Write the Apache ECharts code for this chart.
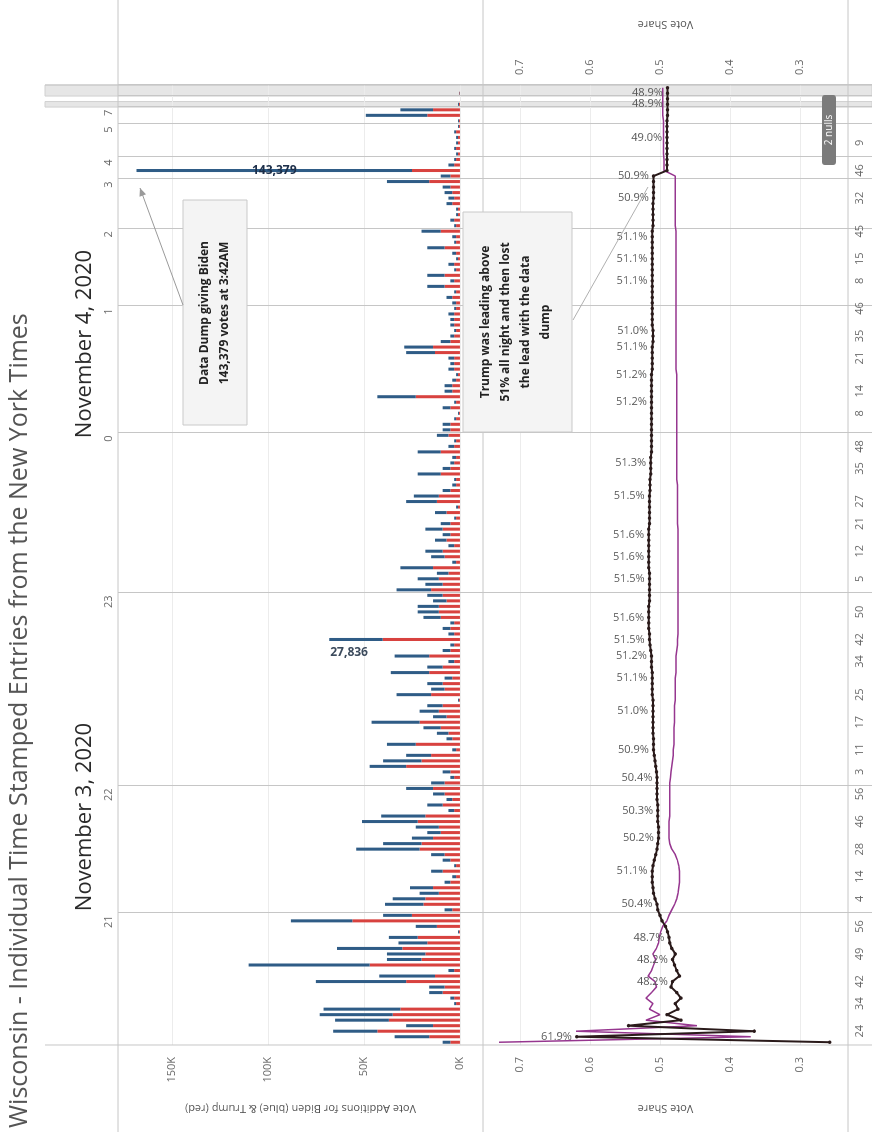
<!DOCTYPE html>
<html>
<head>
<meta charset="utf-8">
<script src="https://cdn.jsdelivr.net/npm/echarts@6/dist/echarts.min.js"></script>
<style>
html, body { margin: 0; padding: 0; background: #fff; overflow: hidden; }
#stage { position: absolute; left: 0; top: 0; width: 872px; height: 1132px; overflow: hidden; }
/* the chart is laid out in landscape and turned a quarter to the left */
#chart { position: absolute; left: 0; top: 0; width: 1132px; height: 872px;
         transform-origin: 0 0; transform: translateY(1132px) rotate(-90deg); }
</style>
</head>
<body>
<div id="stage"><div id="chart"></div></div>
<script>
// hours (ET) and how many time stamped entries fall in each
var hourNames = ['21', '22', '23', '0', '1', '2', '3', '4', '5', '7', '', ''];
var hourCounts = [24, 23, 35, 29, 23, 14, 9, 4, 6, 3, 2, 2];

// vote additions per entry, thousands
var trumpVotes = [
    5, 16, 43, 14, 37, 35, 31, 2, 3, 9, 8, 28, 13, 3, 47, 20, 18, 30, 17, 22, 0.5, 12, 56, 25,
    4, 19, 18, 11, 14, 5, 2, 9, 2, 5, 8, 21, 20, 14, 10, 11, 22, 18, 3, 9, 4, 8, 14,
    8, 3, 5, 28, 20, 15, 2, 23, 4, 6, 10, 21, 7, 11, 9, 0.5, 15, 8, 9, 4, 16, 9, 3, 16, 5, 3, 40.2, 3, 5, 3, 10, 11, 11, 7, 9,
    15, 9, 11, 6, 14, 2, 8, 9, 3, 7, 5, 9, 5, 2, 7, 1, 12, 11, 5, 2, 2, 10, 5, 3, 2, 10, 3, 2, 6,
    5, 5, 2, 0.5, 5, 2, 23, 4, 4, 2, 1, 3, 3, 3, 13, 14, 5, 3, 2, 3, 3, 3, 2,
    2, 4, 2, 8, 3, 8, 2, 3, 1, 2, 8, 2, 2, 10,
    2, 3, 1, 1, 4, 3, 4, 5, 16,
    5, 25, 3, 2,
    1, 2, 1, 1, 2, 0.5,
    0.5, 17, 14,
    0.5, 0, 0.3, 0
];
var bidenVotes = [
    4, 18, 23, 14, 28, 38, 40, 1, 2, 7, 8, 47, 29, 3, 63, 18, 20, 34, 15, 15, 0.5, 11, 32, 15,
    4, 20, 17, 10, 12, 3, 2, 6, 1, 4, 7, 33, 20, 11, 7, 12, 29, 23, 3, 8, 3, 6, 14,
    7, 2, 4, 19, 20, 13, 2, 15, 3, 6, 9, 25, 7, 10, 8, 0.5, 18, 7, 8, 4, 20, 8, 3, 18, 4, 2, 27.836, 3, 4, 2, 9, 11, 11, 7, 8,
    18, 9, 11, 6, 17, 2, 7, 9, 3, 6, 4, 9, 5, 1, 6, 1, 16, 13, 4, 2, 1, 12, 4, 2, 2, 12, 3, 1, 6,
    4, 4, 1, 0.5, 4, 1, 20, 4, 4, 2, 1, 3, 2, 3, 15, 15, 5, 2, 1, 2, 2, 3, 1,
    2, 3, 1, 9, 2, 9, 1, 3, 1, 2, 9, 1, 2, 10,
    1, 2, 1, 1, 3, 3, 4, 4, 22,
    5, 143.379, 3, 1,
    1, 1, 1, 1, 1, 0.5,
    0.5, 32, 17,
    0.5, 0, 0.2, 0
];

// running vote share per entry
var trumpShare = [
    0.257, 0.619, 0.365, 0.545, 0.470, 0.490, 0.474, 0.478, 0.470, 0.476, 0.484, 0.482, 0.472, 0.476, 0.479, 0.482, 0.478, 0.483, 0.486, 0.487, 0.489, 0.492, 0.497, 0.500,
    0.503, 0.504, 0.507, 0.509, 0.510, 0.511, 0.511, 0.511, 0.510, 0.508, 0.506, 0.504, 0.503, 0.502, 0.502, 0.502, 0.503, 0.503, 0.503, 0.503, 0.504, 0.504, 0.504,
    0.504, 0.504, 0.505, 0.506, 0.507, 0.508, 0.509, 0.509, 0.509, 0.510, 0.510, 0.510, 0.510, 0.510, 0.510, 0.510, 0.511, 0.511, 0.511, 0.511, 0.511, 0.512, 0.512, 0.512, 0.513, 0.514, 0.515, 0.515, 0.516, 0.516, 0.516, 0.516, 0.516, 0.515, 0.515,
    0.515, 0.515, 0.515, 0.515, 0.516, 0.516, 0.516, 0.516, 0.516, 0.516, 0.516, 0.516, 0.515, 0.515, 0.515, 0.515, 0.515, 0.515, 0.514, 0.514, 0.514, 0.513, 0.513, 0.513, 0.513, 0.512, 0.512, 0.512, 0.512,
    0.512, 0.512, 0.512, 0.512, 0.512, 0.512, 0.512, 0.512, 0.512, 0.512, 0.512, 0.511, 0.511, 0.511, 0.511, 0.511, 0.510, 0.510, 0.510, 0.511, 0.511, 0.511, 0.511,
    0.511, 0.511, 0.511, 0.511, 0.511, 0.511, 0.511, 0.511, 0.511, 0.511, 0.511, 0.511, 0.511, 0.511,
    0.510, 0.510, 0.510, 0.510, 0.510, 0.509, 0.509, 0.509, 0.509,
    0.509, 0.490, 0.490, 0.490,
    0.490, 0.490, 0.490, 0.490, 0.490, 0.490,
    0.490, 0.489, 0.489,
    0.489, 0.489, 0.489, 0.489
];
var bidenShare = [
    0.730, 0.370, 0.620, 0.447, 0.520, 0.500, 0.515, 0.510, 0.520, 0.512, 0.505, 0.507, 0.517, 0.512, 0.509, 0.506, 0.510, 0.505, 0.502, 0.501, 0.499, 0.496, 0.490, 0.487,
    0.483, 0.479, 0.476, 0.474, 0.473, 0.472, 0.472, 0.472, 0.473, 0.475, 0.478, 0.483, 0.486, 0.487, 0.487, 0.487, 0.487, 0.486, 0.486, 0.486, 0.486, 0.486, 0.486,
    0.486, 0.485, 0.484, 0.483, 0.482, 0.481, 0.481, 0.480, 0.480, 0.480, 0.480, 0.479, 0.479, 0.479, 0.479, 0.478, 0.478, 0.478, 0.478, 0.478, 0.477, 0.477, 0.477, 0.477, 0.476, 0.475, 0.475, 0.474, 0.474, 0.474, 0.474, 0.474, 0.474, 0.474, 0.474,
    0.474, 0.474, 0.474, 0.474, 0.474, 0.474, 0.474, 0.474, 0.474, 0.474, 0.474, 0.474, 0.475, 0.475, 0.475, 0.475, 0.475, 0.475, 0.475, 0.475, 0.476, 0.476, 0.476, 0.476, 0.476, 0.476, 0.476, 0.476, 0.476,
    0.476, 0.476, 0.476, 0.476, 0.476, 0.476, 0.476, 0.476, 0.476, 0.476, 0.476, 0.477, 0.477, 0.477, 0.477, 0.477, 0.477, 0.477, 0.477, 0.477, 0.477, 0.477, 0.477,
    0.477, 0.477, 0.477, 0.477, 0.477, 0.477, 0.477, 0.477, 0.477, 0.477, 0.477, 0.477, 0.477, 0.477,
    0.478, 0.478, 0.478, 0.478, 0.478, 0.478, 0.478, 0.478, 0.478,
    0.478, 0.494, 0.494, 0.494,
    0.495, 0.495, 0.495, 0.495, 0.495, 0.495,
    0.495, 0.496, 0.496,
    0.496, 0.496, 0.496, 0.496
];

// entries whose Trump share carries a label
var trumpLabelIdx = [1, 11, 15, 19, 25, 31, 37, 42, 48, 53, 60, 66, 70, 73, 77, 84, 88, 92, 99, 105,
    116, 121, 126, 129, 138, 142, 146, 153, 157, 164, 170, 172];

// minute header
var minuteIdx = [2, 7, 11, 16, 21, 26, 30, 35, 40, 45, 49, 53, 58, 63, 69, 73, 78, 84, 89, 94, 98, 104, 108,
    114, 118, 124, 128, 133, 138, 142, 147, 153, 158, 163];
var minuteText = ['24', '34', '42', '49', '56', '4', '14', '28', '46', '56', '3', '11', '17', '25', '34', '42', '50',
    '5', '12', '21', '27', '35', '48', '8', '14', '21', '35', '46', '8', '15', '45', '32', '46', '9'];

var barTicks = [0, 50, 100, 150];
var shareTicks = [0.3, 0.4, 0.5, 0.6, 0.7];
var dumpIdx = 158;
var noteIdx = 73;
var nullBands = [[170, 170], [172, 173]];

var FONT = '"Open Sans", "DejaVu Sans", sans-serif';
var HOUR_LINE = '#c6c6c6';

var cats = trumpVotes.map(function (v, i) { return String(i); });
var boundaries = [], hourEnd = {};
var acc = 0;
hourCounts.forEach(function (n, h) {
    acc += n;
    hourEnd[acc - 1] = hourNames[h];
    boundaries.push(acc);
});
var minuteAt = {};
minuteIdx.forEach(function (k, j) { minuteAt[k] = minuteText[j]; });

function isBoundary(i) { return boundaries.indexOf(i) >= 0; }
function fmtThousands(v) { return Math.round(v * 1000).toLocaleString('en-US'); }

var bidenData = bidenVotes.map(function (v, i) {
    if (i === dumpIdx) {
        return {
            value: v,
            label: {
                show: true, position: 'inside', rotate: -90,
                formatter: function (p) { return fmtThousands(p.value); },
                color: '#1d2f4a', fontWeight: 'bold', fontSize: 12, fontFamily: FONT
            }
        };
    }
    return v;
});
var trumpShareData = trumpShare.map(function (v, i) {
    return trumpLabelIdx.indexOf(i) >= 0 ? { value: v, label: { show: true } } : v;
});

var chart = echarts.init(document.getElementById('chart'));

var option = {
    animation: false,
    backgroundColor: '#ffffff',
    textStyle: { fontFamily: FONT },
    grid: [
        { left: 87, width: 960, top: 118, height: 365 },
        { left: 87, width: 960, top: 483, height: 365 }
    ],
    xAxis: [
        {
            type: 'category', gridIndex: 0, position: 'top', data: cats,
            axisLine: { show: false },
            axisTick: { show: true, interval: isBoundary, length: 21, lineStyle: { color: HOUR_LINE } },
            axisLabel: {
                interval: function (i) { return !!hourEnd[i]; },
                formatter: function (v, i) { return hourEnd[i] || ''; },
                align: 'right', color: '#6a6a6a', fontSize: 11, margin: 4
            },
            splitLine: { show: true, interval: isBoundary, lineStyle: { color: HOUR_LINE } }
        },
        {
            type: 'category', gridIndex: 1, position: 'bottom', data: cats,
            axisLine: { show: false },
            axisTick: { show: true, interval: isBoundary, length: 24, lineStyle: { color: HOUR_LINE } },
            axisLabel: {
                interval: function (i) { return minuteAt[i] !== undefined; },
                formatter: function (v, i) { return minuteAt[i] || ''; },
                color: '#6a6a6a', fontSize: 11, margin: 6
            },
            splitLine: { show: true, interval: isBoundary, lineStyle: { color: HOUR_LINE } }
        }
    ],
    yAxis: [
        {
            type: 'value', gridIndex: 0, min: -12, max: 178,
            name: 'Vote Additions for Biden (blue) & Trump (red)',
            nameLocation: 'middle', nameGap: 58, nameRotate: 90,
            nameTextStyle: { color: '#555', fontSize: 11 },
            axisLine: { show: false },
            axisTick: { show: false, customValues: barTicks },
            axisLabel: { customValues: barTicks, formatter: function (v) { return v + 'K'; }, color: '#6a6a6a', fontSize: 11, margin: 12 },
            splitLine: { show: true, lineStyle: { color: '#ececec' } }
        },
        {
            type: 'value', gridIndex: 1, min: 0.231, max: 0.753,
            name: 'Vote Share', nameLocation: 'middle', nameGap: 58, nameRotate: 90,
            nameTextStyle: { color: '#555', fontSize: 11 },
            axisLine: { show: false },
            axisTick: { show: false, customValues: shareTicks },
            axisLabel: { customValues: shareTicks, formatter: function (v) { return v.toFixed(1); }, color: '#6a6a6a', fontSize: 11, margin: 12 },
            splitLine: { show: true, lineStyle: { color: '#ececec' } }
        },
        {
            type: 'value', gridIndex: 1, position: 'right', min: 0.231, max: 0.753,
            name: 'Vote Share', nameLocation: 'middle', nameGap: 55, nameRotate: 90,
            nameTextStyle: { color: '#555', fontSize: 11 },
            axisLine: { show: false },
            axisTick: { show: false, customValues: shareTicks },
            axisLabel: { customValues: shareTicks, formatter: function (v) { return v.toFixed(1); }, color: '#6a6a6a', fontSize: 11, margin: 10 },
            splitLine: { show: false }
        }
    ],
    series: [
        {
            name: 'Trump', type: 'bar', xAxisIndex: 0, yAxisIndex: 0, stack: 'votes',
            data: trumpVotes, barWidth: '55%',
            itemStyle: { color: '#d8423f' }
        },
        {
            name: 'Biden', type: 'bar', xAxisIndex: 0, yAxisIndex: 0, stack: 'votes',
            data: bidenData, barWidth: '55%',
            itemStyle: { color: '#2f5c86' }
        },
        {
            name: 'Biden share', type: 'line', xAxisIndex: 1, yAxisIndex: 1,
            data: bidenShare, symbol: 'none',
            lineStyle: { color: '#96368f', width: 1.5 }, z: 3
        },
        {
            name: 'Trump share', type: 'line', xAxisIndex: 1, yAxisIndex: 1,
            data: trumpShareData, symbol: 'circle', symbolSize: 3.5, showAllSymbol: true,
            itemStyle: { color: '#2a1a1a' },
            lineStyle: { color: '#2a1a1a', width: 2 },
            label: {
                show: false, position: 'top', distance: 3, rotate: -90,
                align: 'right', verticalAlign: 'middle',
                formatter: function (p) { return (p.value * 100).toFixed(1) + '%'; },
                color: '#5a5a5a', fontSize: 11
            },
            z: 4
        }
    ]
};
chart.setOption(option);

// layout pieces: dividers, bands, titles, notes
var g = [];
function gline(x1, y1, x2, y2, color, z) {
    g.push({ type: 'line', silent: true, z: z || 0, shape: { x1: x1, y1: y1, x2: x2, y2: y2 },
        style: { stroke: color || HOUR_LINE, lineWidth: 1 } });
}
function gtext(x, y, text, size, color, weight, rot, align) {
    g.push({ type: 'text', silent: true, z: 50, x: x, y: y, rotation: rot || 0,
        style: { text: text, fontSize: size, fill: color, fontWeight: weight || 'normal', fontFamily: FONT,
            align: align || 'center', verticalAlign: 'middle' } });
}
function arrow(x1, y1, x2, y2) {
    gline(x1, y1, x2, y2, '#9a9a9a', 40);
    var dx = x2 - x1, dy = y2 - y1, len = Math.sqrt(dx * dx + dy * dy);
    var ux = dx / len, uy = dy / len, bx = x2 - ux * 8, by = y2 - uy * 8;
    g.push({ type: 'polygon', silent: true, z: 40,
        shape: { points: [[x2, y2], [bx + uy * 3.5, by - ux * 3.5], [bx - uy * 3.5, by + ux * 3.5]] },
        style: { fill: '#9a9a9a' } });
}

var band = chart.convertToPixel({ xAxisIndex: 0 }, 1) - chart.convertToPixel({ xAxisIndex: 0 }, 0);
nullBands.forEach(function (b) {
    var x0 = chart.convertToPixel({ xAxisIndex: 0 }, b[0]) - band / 2;
    var x1 = chart.convertToPixel({ xAxisIndex: 0 }, b[1]) + band / 2;
    g.push({ type: 'rect', silent: true, z: -1, shape: { x: x0, y: 45, width: x1 - x0, height: 827 },
        style: { fill: '#e6e6e6', stroke: '#d0d0d0', lineWidth: 1 } });
});

// pane dividers
gline(0, 118, 1132, 118);
gline(0, 483, 1132, 483);
gline(0, 848, 1132, 848);
gline(87, 45, 87, 872);
gline(1047, 45, 1047, 872);

// title and dates
gtext(4, 20, 'Wisconsin - Individual Time Stamped Entries from the New York Times', 25, '#555555', 'normal', 0, 'left');
gtext(315, 85, 'November 3, 2020', 22, '#2a2a2a');
gtext(788, 85, 'November 4, 2020', 22, '#2a2a2a');

// value on the 27,836 entry
var notePt = chart.convertToPixel({ gridIndex: 0 }, [noteIdx, trumpVotes[noteIdx] + bidenVotes[noteIdx]]);
g.push({ type: 'text', silent: true, z: 50, x: notePt[0] - 13, y: notePt[1] + 1, rotation: -Math.PI / 2,
    style: { text: fmtThousands(bidenVotes[noteIdx]), fontSize: 12, fontWeight: 'bold', fill: '#3b4a5c',
        fontFamily: FONT, align: 'left', verticalAlign: 'middle' } });

// note boxes
g.push({ type: 'rect', silent: true, z: 30, shape: { x: 707, y: 183, width: 225, height: 64 },
    style: { fill: '#f4f4f4', stroke: '#c9c9c9', lineWidth: 1 } });
gtext(819, 205, 'Data Dump giving Biden', 12, '#222', 'bold');
gtext(819, 225, '143,379 votes at 3:42AM', 12, '#222', 'bold');
arrow(827, 183, 944, 140);

g.push({ type: 'rect', silent: true, z: 30, shape: { x: 700, y: 463, width: 220, height: 109 },
    style: { fill: '#f4f4f4', stroke: '#c9c9c9', lineWidth: 1 } });
gtext(810, 486, 'Trump was leading above', 12, '#222', 'bold');
gtext(810, 506, '51% all night and then lost', 12, '#222', 'bold');
gtext(810, 526, 'the lead with the data', 12, '#222', 'bold');
gtext(810, 546, 'dump', 12, '#222', 'bold');
gline(812, 573, 945, 648, '#b0b0b0', 40);

// null indicator
g.push({ type: 'rect', silent: true, z: 30, shape: { x: 967, y: 822, width: 70, height: 14, r: 3 },
    style: { fill: '#7b7b7b' } });
gtext(1002, 829, '2 nulls', 10, '#ffffff');

chart.setOption({ graphic: g });
</script>
